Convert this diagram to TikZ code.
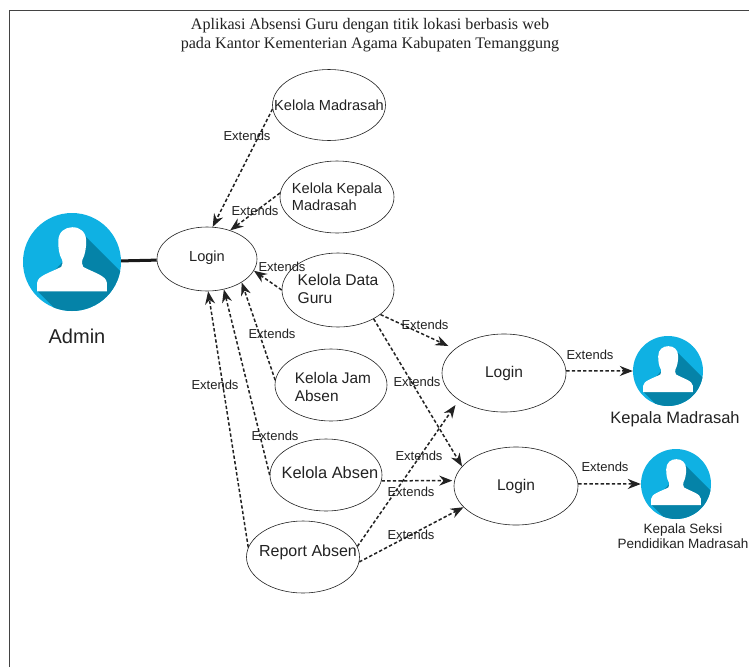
\documentclass[tikz,border=0pt]{standalone}
\usepackage{fontspec}
\setmainfont{Liberation Sans}
\newfontfamily\titlefont{Liberation Serif}
\usetikzlibrary{shapes.geometric,arrows.meta}
\definecolor{skyc}{HTML}{0FB1E3}
\definecolor{deepc}{HTML}{0583A8}
\definecolor{inkc}{HTML}{222222}
\newcommand{\fsz}[1]{\fontsize{#1}{1.15\dimexpr#1pt\relax}\selectfont}
\tikzset{
  usecase/.style n args={3}{ellipse,draw=inkc,line width=0.6pt,inner sep=0pt,
    label={[align=left,text=inkc,inner sep=0pt,font=\fsz{#1},#3]center:{#2}}},
  actorc/.style={circle,fill=skyc,inner sep=0pt},
  ext/.style={-{Stealth[length=13pt,width=10pt]},line width=1.5pt,dash pattern=on 3.4pt off 2.2pt,draw=inkc},
  elabel/.style={font=\fsz{13},text=inkc,inner sep=0pt},
  alabel/.style={text=inkc,inner sep=0pt,align=center},
  pics/person/.style={code={
    \begin{scope}
      \clip (0,0) circle (1);
      \fill[deepc] (0.28,-0.52) -- (1.2,0.40) -- (1.2,1.2) -- (-0.1,1.2) -- (-0.72,0.58) -- cycle;
    \end{scope}
    \fill[white] (-0.71,0.6) -- (-0.71,0.42)
      .. controls (-0.70,0.28) and (-0.45,0.22) .. (-0.22,0.10)
      .. controls (-0.19,0.06) and (-0.19,0.0) .. (-0.20,-0.04)
      .. controls (-0.27,-0.15) and (-0.28,-0.3) .. (-0.28,-0.42)
      .. controls (-0.28,-0.62) and (-0.14,-0.71) .. (0.01,-0.71)
      .. controls (0.16,-0.71) and (0.29,-0.62) .. (0.29,-0.42)
      .. controls (0.29,-0.3) and (0.27,-0.15) .. (0.21,-0.04)
      .. controls (0.20,0.0) and (0.20,0.06) .. (0.23,0.10)
      .. controls (0.45,0.22) and (0.70,0.28) .. (0.71,0.42)
      -- (0.71,0.6) -- cycle;
  }}
}
\begin{document}
\begin{tikzpicture}[x=1pt,y=-1pt]
\useasboundingbox (0,0) rectangle (749,667);
\fill[white] (0,0) rectangle (749,667);
\draw[line width=0.8pt,draw=inkc!85] (9,667) -- (9,10) -- (749,10);

\node[alabel,font=\titlefont\fsz{16.1}] (title) at (370,35) {Aplikasi Absensi Guru dengan titik lokasi berbasis web\\pada Kantor Kementerian Agama Kabupaten Temanggung};

% actors
\node[actorc,minimum size=98pt] (admin) at (72,262) {};
\pic[scale=49] at (admin) {person};
\node[actorc,minimum size=70pt] (kepala) at (668,371) {};
\pic[scale=35] at (kepala) {person};
\node[actorc,minimum size=70pt] (seksi) at (676,484) {};
\pic[scale=35] at (seksi) {person};
\node[alabel,font=\fsz{20}] (adminl) at (77,336) {Admin};
\node[alabel,font=\fsz{16.5}] (kepalal) at (675,419) {Kepala Madrasah};
\node[alabel,font=\fsz{13.5}] (seksil) at (683,536) {Kepala Seksi\\Pendidikan Madrasah};

% use cases
\node[usecase={14.6}{Kelola Madrasah}{},minimum width=113pt,minimum height=71pt] (mad) at (329,105) {};
\node[usecase={14.6}{Kelola Kepala\\Madrasah}{},minimum width=114pt,minimum height=72pt] (kep) at (337,197) {};
\node[usecase={14.6}{Login}{yshift=1pt},minimum width=100pt,minimum height=64pt] (login) at (207,259) {};
\node[usecase={15.6}{Kelola Data\\Guru}{yshift=1pt},minimum width=112pt,minimum height=74pt] (guru) at (338,290) {};
\node[usecase={15.4}{Kelola Jam\\Absen}{xshift=2pt,yshift=-2pt},minimum width=112pt,minimum height=72pt] (jam) at (331,385) {};
\node[usecase={16.4}{Kelola Absen}{xshift=4pt,yshift=2pt},minimum width=112pt,minimum height=72pt] (absen) at (326,475) {};
\node[usecase={16}{Report Absen}{xshift=5pt,yshift=5pt},minimum width=113pt,minimum height=72pt] (report) at (303,557) {};
\node[usecase={15.5}{Login}{},minimum width=124pt,minimum height=78pt] (logina) at (504,373) {};
\node[usecase={15.5}{Login}{},minimum width=124pt,minimum height=78pt] (loginb) at (516,486) {};

% connectors
\draw[line width=3pt,draw=black!90] (admin) -- (login);
\draw[ext] (mad.184) -- (login.80);
\draw[ext] (kep.176) -- (login.51);
\draw[ext] (guru.180) -- (login.-14);
\draw[ext] (jam.175) -- (login.-34);
\draw[ext] (absen.180) -- (login.-61);
\draw[ext] (report.170) -- (login.-88);
\draw[ext,shorten >=7pt] (guru.-30) -- (logina.154);
\draw[ext] (guru.-39) -- (loginb.160);
\draw[ext,shorten >=2pt] (absen.-6) -- (loginb.175);
\draw[ext,shorten >=6pt] (report.11) -- (logina.211);
\draw[ext] (report.-5.5) -- (loginb.202);
\draw[ext] (logina.2) -- (kepala.180);
\draw[ext] (loginb.2) -- (seksi.180);

% labels
\node[elabel] (e1) at (247,136) {Extends};
\node[elabel] (e2) at (255,211) {Extends};
\node[elabel] (e3) at (282,267) {Extends};
\node[elabel] (e4) at (272,334) {Extends};
\node[elabel] (e5) at (215,385) {Extends};
\node[elabel] (e6) at (275,436) {Extends};
\node[elabel] (e7) at (425,325) {Extends};
\node[elabel] (e8) at (417,382) {Extends};
\node[elabel] (e9) at (419,456) {Extends};
\node[elabel] (e10) at (411,492) {Extends};
\node[elabel] (e11) at (411,535) {Extends};
\node[elabel] (e12) at (590,355) {Extends};
\node[elabel] (e13) at (605,467) {Extends};
\end{tikzpicture}
\end{document}
